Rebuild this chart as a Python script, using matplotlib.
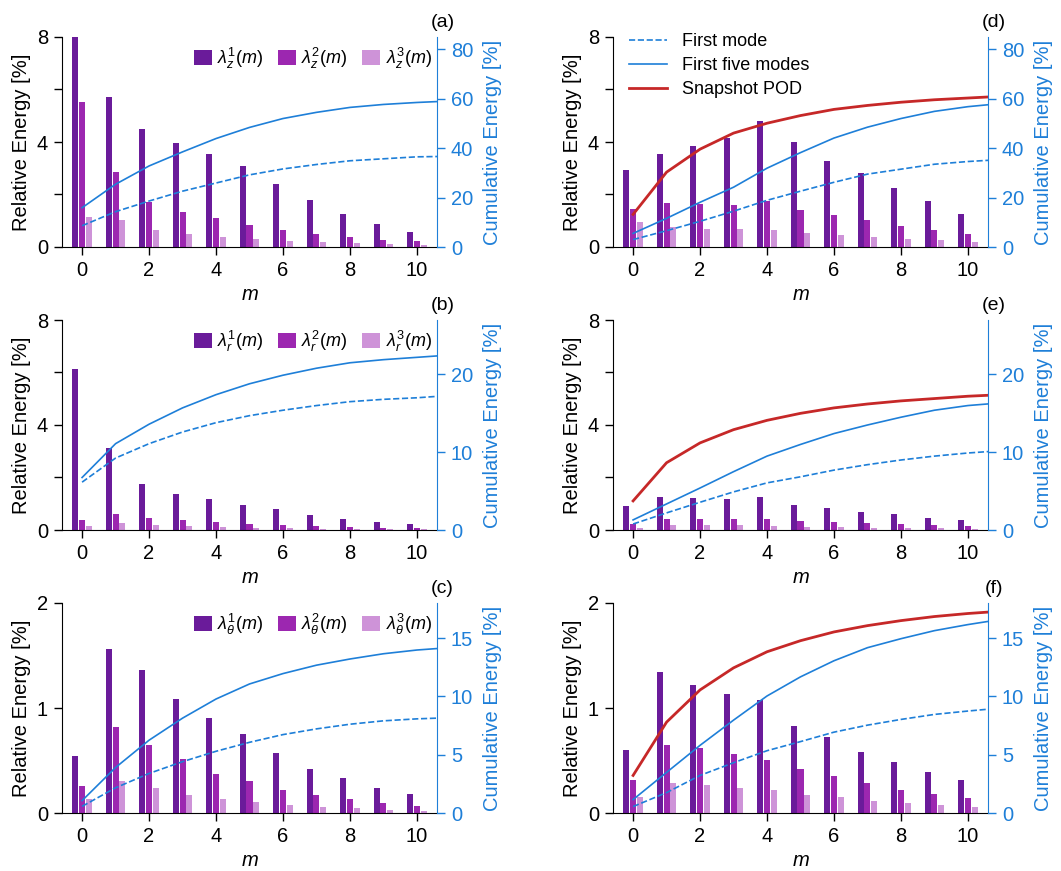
import numpy as np
import matplotlib
matplotlib.use("Agg")
import matplotlib.pyplot as plt

plt.rcParams['font.family'] = ['Liberation Sans', 'DejaVu Sans']
plt.rcParams['mathtext.fontset'] = 'custom'
plt.rcParams['mathtext.rm'] = 'Liberation Sans'
plt.rcParams['mathtext.it'] = 'Liberation Sans:italic'
plt.rcParams['font.size'] = 14.5

m = np.arange(11)
m_line = np.arange(12)

# relative energy of the first three modes, per azimuthal wavenumber m
# (a) z component, spectral POD
za1 = [8.0, 5.70, 4.48, 3.95, 3.53, 3.07, 2.39, 1.78, 1.24, 0.86, 0.56]
za2 = [5.51, 2.84, 1.70, 1.32, 1.09, 0.83, 0.63, 0.48, 0.37, 0.25, 0.22]
za3 = [1.13, 1.02, 0.63, 0.48, 0.37, 0.29, 0.22, 0.18, 0.14, 0.10, 0.06]
# (b) r component
rb1 = [6.13, 3.12, 1.75, 1.37, 1.18, 0.95, 0.80, 0.57, 0.42, 0.30, 0.23]
rb2 = [0.38, 0.61, 0.46, 0.38, 0.30, 0.23, 0.19, 0.15, 0.11, 0.08, 0.08]
rb3 = [0.15, 0.27, 0.19, 0.15, 0.11, 0.08, 0.08, 0.04, 0.03, 0.02, 0.02]
# (c) theta component
tc1 = [0.546, 1.565, 1.365, 1.089, 0.908, 0.756, 0.575, 0.422, 0.337, 0.241, 0.184]
tc2 = [0.26, 0.822, 0.651, 0.517, 0.375, 0.308, 0.222, 0.175, 0.137, 0.098, 0.070]
tc3 = [0.137, 0.308, 0.241, 0.175, 0.137, 0.108, 0.079, 0.060, 0.051, 0.032, 0.022]
# (d) z component, right column
zd1 = [2.92, 3.53, 3.83, 4.14, 4.79, 3.99, 3.26, 2.81, 2.23, 1.74, 1.24]
zd2 = [1.43, 1.66, 1.63, 1.59, 1.74, 1.40, 1.21, 1.02, 0.79, 0.63, 0.48]
zd3 = [0.95, 0.75, 0.67, 0.67, 0.63, 0.52, 0.44, 0.37, 0.29, 0.25, 0.18]
# (e) r component, right column
re1 = [0.91, 1.26, 1.22, 1.18, 1.26, 0.95, 0.84, 0.69, 0.61, 0.46, 0.38]
re2 = [0.23, 0.42, 0.42, 0.42, 0.42, 0.34, 0.30, 0.27, 0.23, 0.19, 0.15]
re3 = [0.08, 0.19, 0.19, 0.19, 0.15, 0.11, 0.11, 0.08, 0.08, 0.08, 0.04]
# (f) theta component, right column
tf1 = [0.603, 1.346, 1.222, 1.137, 1.079, 0.832, 0.727, 0.584, 0.489, 0.394, 0.317]
tf2 = [0.317, 0.651, 0.622, 0.565, 0.508, 0.422, 0.356, 0.289, 0.222, 0.184, 0.146]
tf3 = [0.156, 0.289, 0.270, 0.241, 0.222, 0.175, 0.156, 0.117, 0.098, 0.079, 0.060]

# cumulative energy [%] (first mode, first five modes, snapshot POD)
cum_a1 = [8.6, 14.3, 18.6, 22.6, 25.9, 29.2, 31.6, 33.4, 34.9, 35.7, 36.5, 36.7]
cum_a5 = [15.9, 25.4, 32.8, 38.5, 43.9, 48.4, 52.0, 54.5, 56.5, 57.7, 58.5, 59.1]
cum_b1 = [6.15, 9.25, 11.1, 12.6, 13.8, 14.7, 15.4, 16.0, 16.5, 16.8, 17.0, 17.3]
cum_b5 = [6.75, 11.1, 13.6, 15.7, 17.4, 18.8, 19.9, 20.8, 21.5, 21.9, 22.2, 22.5]
cum_c1 = [0.57, 2.16, 3.39, 4.4, 5.29, 6.06, 6.72, 7.21, 7.61, 7.9, 8.07, 8.17]
cum_c5 = [1.06, 3.9, 6.24, 8.13, 9.77, 11.06, 11.95, 12.67, 13.2, 13.65, 13.97, 14.18]
cum_d1 = [3.0, 6.6, 10.4, 14.5, 18.9, 22.6, 26.2, 29.5, 31.5, 33.5, 34.6, 35.4]
cum_d5 = [5.5, 11.6, 18.1, 24.2, 31.9, 38.2, 44.1, 48.5, 52.0, 54.9, 56.8, 58.1]
cum_dS = [13.2, 30.3, 39.6, 46.1, 50.1, 53.2, 55.7, 57.3, 58.6, 59.6, 60.3, 61.0]
cum_e1 = [0.77, 2.2, 3.57, 4.9, 6.06, 6.84, 7.7, 8.4, 9.0, 9.5, 9.9, 10.2]
cum_e5 = [1.3, 3.35, 5.4, 7.5, 9.5, 11.0, 12.4, 13.5, 14.5, 15.4, 16.0, 16.35]
cum_eS = [3.74, 8.65, 11.2, 12.9, 14.1, 15.0, 15.7, 16.2, 16.6, 16.9, 17.2, 17.4]
cum_f1 = [0.55, 1.75, 3.22, 4.31, 5.34, 6.12, 6.93, 7.53, 8.02, 8.45, 8.74, 9.0]
cum_f5 = [1.15, 3.48, 5.8, 7.96, 10.03, 11.67, 13.05, 14.17, 14.94, 15.63, 16.15, 16.6]
cum_fS = [3.22, 7.79, 10.55, 12.44, 13.82, 14.77, 15.52, 16.06, 16.49, 16.84, 17.1, 17.3]

c_bar = ['#6a1b9a', '#9c27b0', '#ce93d8']
c_blue = '#1e7fd8'
c_red = '#c62828'

W, H = 1061, 871
fig = plt.figure(figsize=(W / 100, H / 100), dpi=100)

col_x = [62 / W, 613 / W]
ax_w = 375 / W
row_top = [37, 320, 603]
ax_h = 210 / H

panels = [
    # (col, row, bars, comp, cum lines, ylim, yticks, ylabels, ylim2, yticks2, letter)
    (0, 0, (za1, za2, za3), 'z', (cum_a1, cum_a5, None), 8, [0, 2, 4, 6, 8], [0, 4, 8], 85, [0, 20, 40, 60, 80], '(a)'),
    (0, 1, (rb1, rb2, rb3), 'r', (cum_b1, cum_b5, None), 8, [0, 2, 4, 6, 8], [0, 4, 8], 27, [0, 10, 20], '(b)'),
    (0, 2, (tc1, tc2, tc3), r'\theta', (cum_c1, cum_c5, None), 2, [0, 1, 2], [0, 1, 2], 18, [0, 5, 10, 15], '(c)'),
    (1, 0, (zd1, zd2, zd3), 'z', (cum_d1, cum_d5, cum_dS), 8, [0, 2, 4, 6, 8], [0, 4, 8], 85, [0, 20, 40, 60, 80], '(d)'),
    (1, 1, (re1, re2, re3), 'r', (cum_e1, cum_e5, cum_eS), 8, [0, 2, 4, 6, 8], [0, 4, 8], 27, [0, 10, 20], '(e)'),
    (1, 2, (tf1, tf2, tf3), r'\theta', (cum_f1, cum_f5, cum_fS), 2, [0, 1, 2], [0, 1, 2], 18, [0, 5, 10, 15], '(f)'),
]

for col, row, bars, comp, cums, ymax, yt, ylab, ymax2, yt2, letter in panels:
    ax = fig.add_axes([col_x[col], 1 - (row_top[row] + 210) / H, ax_w, ax_h])
    ax2 = ax.twinx()

    handles = []
    for k, (vals, off) in enumerate(zip(bars, [-0.2, 0.0, 0.2])):
        h = ax.bar(m + off, vals, width=0.18, color=c_bar[k], linewidth=0,
                   label=r'$\lambda_{%s}^{%d}(m)$' % (comp, k + 1))
        handles.append(h)

    ax.set_xlim(-0.6, 10.6)
    ax.set_ylim(0, ymax)
    ax.set_yticks(yt)
    ax.set_yticklabels([str(v) if v in ylab else '' for v in yt])
    ax.set_xticks([0, 2, 4, 6, 8, 10])
    ax.set_xlabel('$m$', labelpad=4)
    ax.set_ylabel('Relative Energy [%]', labelpad=4)
    ax.spines['top'].set_visible(False)
    ax.spines['right'].set_visible(False)
    ax.tick_params(length=5.5, width=1, pad=4.5)

    l1, = ax2.plot(m_line, cums[0], '--', color=c_blue, lw=1.2, label='First mode')
    l2, = ax2.plot(m_line, cums[1], '-', color=c_blue, lw=1.2, label='First five modes')
    lines = [l1, l2]
    if cums[2] is not None:
        l3, = ax2.plot(m_line, cums[2], '-', color=c_red, lw=2.0, label='Snapshot POD')
        lines.append(l3)
    ax2.set_xlim(-0.6, 10.6)
    ax2.set_ylim(0, ymax2)
    ax2.set_yticks(yt2)
    ax2.set_ylabel('Cumulative Energy [%]', color=c_blue, labelpad=7)
    for s in ['top', 'left', 'bottom']:
        ax2.spines[s].set_visible(False)
    ax2.spines['right'].set_color(c_blue)
    ax2.tick_params(axis='y', colors=c_blue, length=5.5, width=1, pad=4.5)

    ax.text(1.015, 1.07, letter, transform=ax.transAxes, ha='center', va='center',
            fontsize=14)

    if col == 0:
        ax2.legend(handles, [h.get_label() for h in handles], loc='upper right',
                   bbox_to_anchor=(1.02, 1.02), ncol=3, frameon=False, fontsize=13,
                   handlelength=1.0, handleheight=0.9, handletextpad=0.3,
                   columnspacing=0.8, borderaxespad=0.3)
    elif row == 0:
        ax2.legend(lines, [l.get_label() for l in lines], loc='upper left',
                   bbox_to_anchor=(0.01, 1.08), frameon=False, fontsize=13,
                   handlelength=2.1, handletextpad=0.8, labelspacing=0.4,
                   borderaxespad=0.3)

fig.savefig('out.png', dpi=100)
